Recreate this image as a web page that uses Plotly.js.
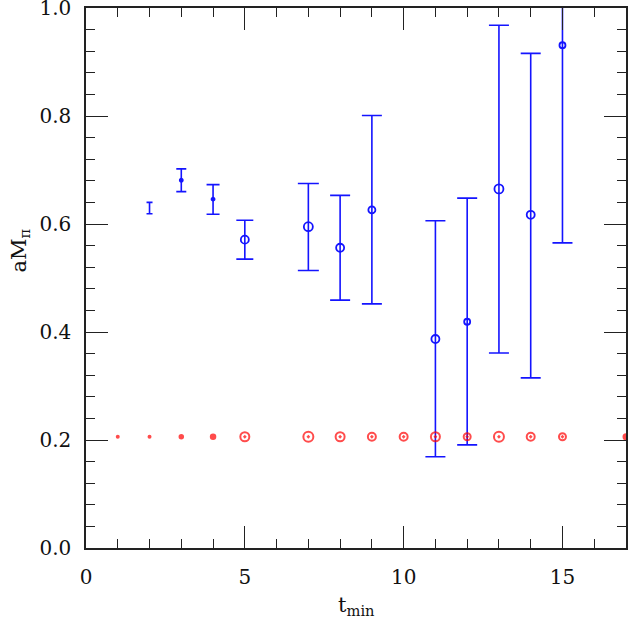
<!DOCTYPE html>
<html>
<head>
<meta charset="utf-8">
<script src="https://cdn.plot.ly/plotly-3.0.1.min.js"></script>
<style>
  body { margin: 0; background: #fff; }
  #chart { width: 628px; height: 623px; }
</style>
</head>
<body>
<div id="chart"></div>
<script>
// blue points: aM_pi vs t_min with error bars
const blueT = [2, 3, 4, 5, 7, 8, 9, 11, 12, 13, 14, 15];
const blueM = [0.630, 0.681, 0.646, 0.571, 0.595, 0.556, 0.626, 0.387, 0.419, 0.665, 0.617, 0.931];
const blueLo = [0.619, 0.660, 0.618, 0.535, 0.514, 0.459, 0.452, 0.169, 0.191, 0.361, 0.315, 0.565];
const blueHi = [0.640, 0.702, 0.673, 0.607, 0.675, 0.653, 0.801, 0.606, 0.648, 0.968, 0.916, 1.050];

// red points (fit values near 0.2)
const redT = [1, 2, 3, 4, 5, 7, 8, 9, 10, 11, 12, 13, 14, 15, 17];
const redM = [0.206, 0.206, 0.206, 0.206, 0.206, 0.206, 0.206, 0.206, 0.206, 0.206, 0.206, 0.206, 0.206, 0.206, 0.206];

// styling per point
const blueSize = [1, 3, 3, 8, 9, 8, 7, 8, 6, 9, 8, 6];
const blueCap = [3, 5, 6.5, 8.5, 10.5, 10, 10, 10, 10, 10, 10, 10];
const redSize = [2, 2, 3.5, 4.5, 9, 10, 9, 8, 8, 9, 7, 10, 8, 7, 5];

const blue = '#1414ff';
const red = '#ff0000';

const data = [];

blueT.forEach((t, i) => {
    data.push({
        x: [t],
        y: [blueM[i]],
        type: 'scatter',
        mode: 'markers',
        marker: {
            size: blueSize[i],
            color: blue,
            opacity: i === 0 ? 0 : 1,
            symbol: blueSize[i] <= 3 ? 'circle' : 'circle-open',
            line: { width: 1.8, color: blue }
        },
        error_y: {
            type: 'data',
            symmetric: false,
            array: [blueHi[i] - blueM[i]],
            arrayminus: [blueM[i] - blueLo[i]],
            color: blue,
            thickness: 1.6,
            width: blueCap[i]
        },
        showlegend: false,
        hoverinfo: 'x+y'
    });
});

data.push({
    x: redT,
    y: redM,
    type: 'scatter',
    mode: 'markers',
    marker: {
        size: redSize,
        color: red,
        symbol: redSize.map(s => (s <= 5 ? 'circle' : 'circle-open-dot')),
        line: { width: 2, color: red }
    },
    showlegend: false,
    hoverinfo: 'x+y'
});

const axisFont = { family: 'DejaVu Serif, serif', size: 20, color: '#111' };
const noGrid = 'rgba(0,0,0,0)';

const layout = {
    width: 628,
    height: 623,
    margin: { l: 86, r: 2, t: 8, b: 75 },
    paper_bgcolor: '#fff',
    plot_bgcolor: '#fff',
    font: axisFont,
    xaxis: {
        range: [0, 17],
        dtick: 5,
        ticks: 'inside',
        ticklen: 22,
        tickcolor: '#222',
        showline: true,
        linecolor: '#222',
        linewidth: 1.5,
        mirror: 'ticks',
        gridcolor: noGrid,
        zeroline: false,
        ticklabeloverflow: 'allow',
        ticklabelstandoff: 10,
        tickfont: axisFont,
        minor: { dtick: 1, ticks: 'inside', ticklen: 9, tickcolor: '#222', gridcolor: noGrid }
    },
    yaxis: {
        range: [0, 1],
        dtick: 0.2,
        tickformat: '.1f',
        ticks: 'inside',
        ticklen: 22,
        tickcolor: '#222',
        showline: true,
        linecolor: '#222',
        linewidth: 1.5,
        mirror: 'ticks',
        gridcolor: noGrid,
        zeroline: false,
        ticklabeloverflow: 'allow',
        ticklabelstandoff: 9,
        tickfont: axisFont,
        minor: { dtick: 0.04, ticks: 'inside', ticklen: 9, tickcolor: '#222', gridcolor: noGrid }
    },
    annotations: [
        {
            text: 't<sub>min</sub>',
            xref: 'paper', yref: 'paper',
            x: 0.50, y: -0.108,
            xanchor: 'center', yanchor: 'middle',
            showarrow: false,
            font: { family: 'DejaVu Serif, serif', size: 21, color: '#111' }
        },
        {
            text: 'aM<sub>π</sub>',
            xref: 'paper', yref: 'paper',
            x: -0.123, y: 0.55,
            xanchor: 'center', yanchor: 'middle',
            textangle: -90,
            showarrow: false,
            font: { family: 'DejaVu Serif, serif', size: 21, color: '#111' }
        }
    ]
};

Plotly.newPlot('chart', data, layout, { displayModeBar: false });
</script>
</body>
</html>
